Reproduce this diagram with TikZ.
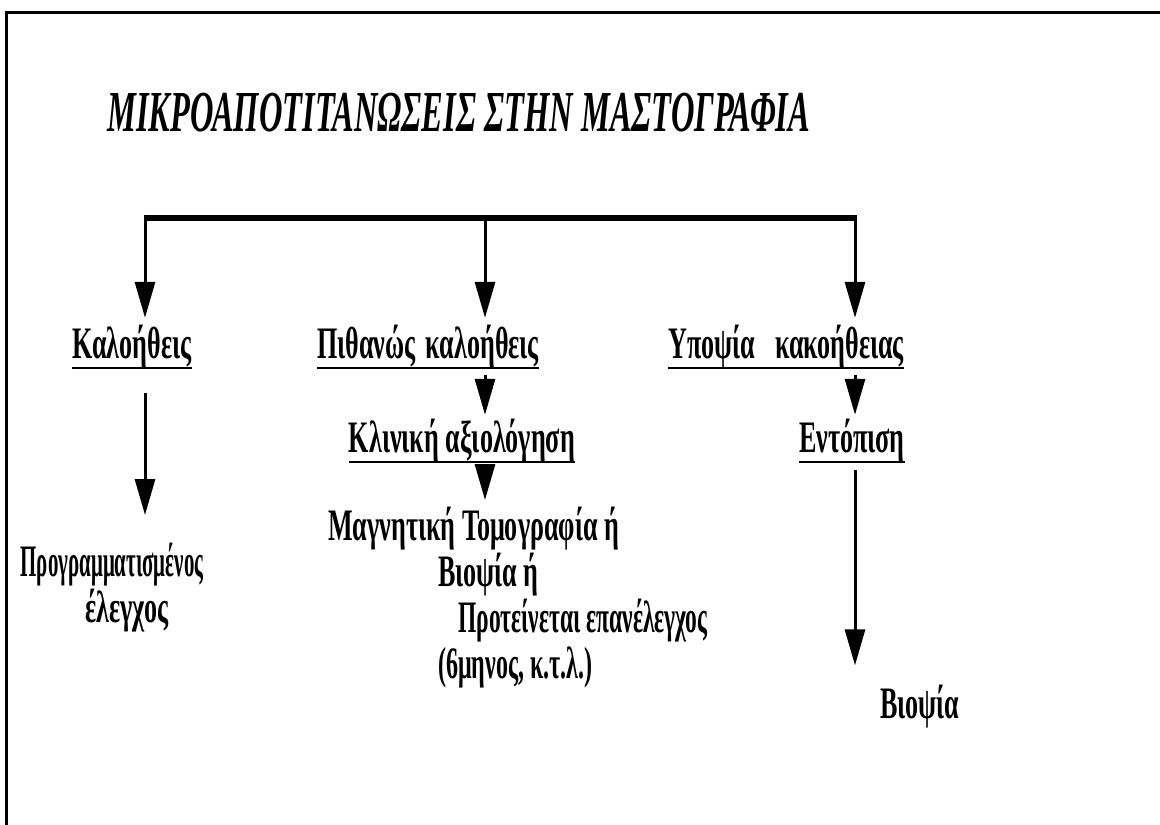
\documentclass[tikz,border=0pt]{standalone}
\usepackage{fontspec}
\usepackage{graphicx}
\setmainfont{Liberation Serif}
\newfontfamily\titlefont{Liberation Serif}[FakeStretch=0.56]
\newfontfamily\boxfont{Liberation Serif}[FakeStretch=0.58]
\usetikzlibrary{arrows.meta}

\tikzset{
	head/.style={line width=3pt, -{Triangle[width=20pt,length=36pt]}},
	bus/.style={line width=6pt},
	heading/.style={inner sep=0pt, font=\boxfont\bfseries\fontsize{45}{50}\selectfont, text height=32pt, text depth=10pt},
	plain/.style={inner sep=0pt, font=\boxfont\bfseries\fontsize{45}{46}\selectfont},
}

\begin{document}
\begin{tikzpicture}[x=1pt, y=-1pt]
	\useasboundingbox (0,0) rectangle (1160,825);
	\fill[white] (0,0) rectangle (1160,825);

	% frame, only the top and left edges
	\draw[line width=3pt] (6,825) -- (6,12) -- (1160,12);

	\node[inner sep=0pt, anchor=base west, font=\titlefont\bfseries\itshape\fontsize{58}{60}\selectfont] (title) at (107,131) {ΜΙΚΡΟΑΠΟΤΙΤΑΝΩΣΕΙΣ ΣΤΗΝ ΜΑΣΤΟΓΡΑΦΙΑ};

	\coordinate (busL) at (145,218);
	\coordinate (busM) at (485,218);
	\coordinate (busR) at (855,218);

	\node[heading, anchor=base] (benign) at (132,358) {Καλοήθεις};
	\node[heading, anchor=base] (probable) at (428,358) {Πιθανώς\hspace{4pt} καλοήθεις};
	\node[heading, anchor=base] (suspect) at (786,358) {Υποψία\hspace{14pt} κακοήθειας};
	\node[heading, anchor=base] (clinical) at (462,452) {Κλινική αξιολόγηση};
	\node[heading, anchor=base] (local) at (852,452) {Εντόπιση};

	\node[plain, align=center, anchor=north] (followup) at (112,543) {\scalebox{0.8}[1]{Προγραμματισμένος}\\ \hspace*{30pt}έλεγχος};
	\node[plain, align=left, anchor=north west] (mri) at (328,507) {Μαγνητική Τομογραφία ή\\
		\hspace*{110pt}Βιοψία ή\\
		\hspace*{130pt}\scalebox{0.9}[1]{Προτείνεται επανέλεγχος}\\
		\hspace*{110pt}\scalebox{0.92}[1]{(6μηνος, κ.τ.λ.)}};
	\node[plain, anchor=base west] (biopsy) at (880,718) {Βιοψία};

	\foreach \n in {benign,probable,suspect,clinical,local}
		\draw[line width=2.5pt] (\n.south west) -- (\n.south east);

	\draw[bus] ([xshift=-1.5pt]busL) -- ([xshift=1.5pt]busR);
	\foreach \c/\n in {busL/benign, busM/probable, busR/suspect}
		\draw[head, shorten >=8pt] (\c) -- (\c |- \n.north);

	\draw[head, shorten <=7pt, shorten >=5pt] (busM |- probable.south) -- (busM |- clinical.north);
	\draw[head, shorten <=3pt, shorten >=7pt] (busM |- clinical.south) -- (busM |- mri.north);
	\draw[head, shorten <=7pt, shorten >=5pt] (busR |- suspect.south) -- (busR |- local.north);

	\draw[head, shorten <=25pt, shorten >=28pt] (busL |- benign.south) -- (busL |- followup.north);
	\draw[head, shorten <=8pt, shorten >=19pt] (busR |- local.south) -- (busR |- biopsy.north);
\end{tikzpicture}
\end{document}
